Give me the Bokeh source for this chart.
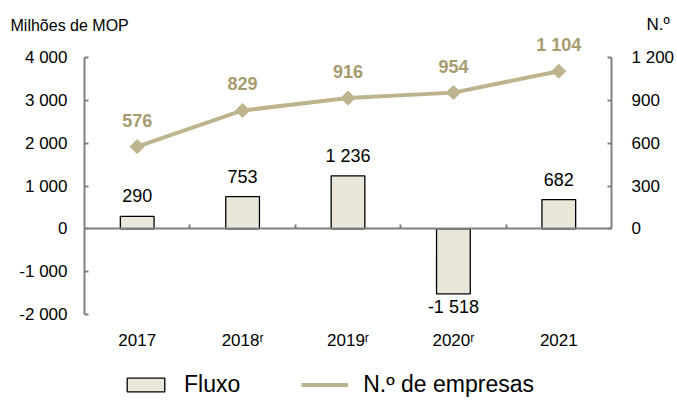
from bokeh.plotting import figure
from bokeh.models import (ColumnDataSource, Range1d, LinearAxis, FixedTicker,
                          LabelSet, Label, Legend, LegendItem)
from bokeh.embed import file_html
from bokeh.resources import INLINE
from bokeh.core.properties import value
import math

# ---- data ----
years = ["2017", "2018ʳ", "2019ʳ", "2020ʳ", "2021"]
fluxo = [290, 753, 1236, -1518, 682]
empresas = [576, 829, 916, 954, 1104]
left_ticks = [-2000, -1000, 0, 1000, 2000, 3000, 4000]
right_ticks = [0, 300, 600, 900, 1200]


def fmt(v):
    return f"{v:,}".replace(",", " ")


# ---- layout (pixels) ----
W, H = 677, 401
PX_L, PX_R = 84, 611      # left / right axis lines
PX_T, PX_B = 57, 314      # top (4000) / bottom (-2000) of the value axis
LMIN, LMAX = left_ticks[0], left_ticks[-1]
RMAX = right_ticks[-1]
RATIO = RMAX / LMAX

n = len(years)
cw = (PX_R - PX_L) / n
xs = list(range(n))
x0 = -0.5 - PX_L / cw
x1 = n - 0.5 + (W - PX_R) / cw
upp = (LMAX - LMIN) / (PX_B - PX_T)
y0 = LMIN - (H - PX_B) * upp
y1 = LMAX + PX_T * upp

FONT = "Liberation Sans"
BAR_FILL = "#EAE7DA"
LINE_COL = "#BDB48E"
LABEL_COL = "#A69C6F"
AXIS_COL = "#808080"

p = figure(width=W, height=H, x_range=Range1d(x0, x1), y_range=Range1d(y0, y1),
           x_axis_type=None, y_axis_type=None,
           output_backend="svg", toolbar_location=None,
           min_border=0, min_border_left=0, min_border_right=0,
           min_border_top=0, min_border_bottom=0)
p.extra_y_ranges = {"right": Range1d(y0 * RATIO, y1 * RATIO)}
p.outline_line_color = None
p.xgrid.visible = False
p.ygrid.visible = False
p.background_fill_color = "white"
p.border_fill_color = "white"


def style_axis(ax, size="17px"):
    ax.axis_line_color = AXIS_COL
    ax.axis_line_width = 2
    ax.major_tick_line_color = AXIS_COL
    ax.major_tick_line_width = 2
    ax.major_tick_in = 4
    ax.major_tick_out = 0
    ax.minor_tick_line_color = None
    ax.major_label_text_font = FONT
    ax.major_label_text_font_size = size
    ax.major_label_text_color = "black"


# left value axis
la = LinearAxis(fixed_location=-0.5, bounds=(LMIN, LMAX),
                ticker=FixedTicker(ticks=left_ticks))
la.major_label_overrides = {t: fmt(t) for t in left_ticks}
style_axis(la)
la.major_label_standoff = 17
p.add_layout(la, "left")

# right axis (number of companies)
ra = LinearAxis(y_range_name="right", fixed_location=n - 0.5, bounds=(0, RMAX),
                ticker=FixedTicker(ticks=right_ticks))
ra.major_label_overrides = {t: fmt(t) for t in right_ticks}
style_axis(ra)
ra.major_label_standoff = 20
p.add_layout(ra, "right")

# zero line with ticks at category boundaries
za = LinearAxis(fixed_location=0, bounds=(-0.5, n - 0.5),
                ticker=FixedTicker(ticks=[i + 0.5 for i in xs[:-1]]))
style_axis(za)
za.major_label_text_color = None
p.add_layout(za, "below")

# category labels
ca = LinearAxis(fixed_location=LMIN, ticker=FixedTicker(ticks=xs))
ca.major_label_overrides = {i: y for i, y in zip(xs, years)}
ca.axis_line_color = None
ca.major_tick_line_color = None
ca.minor_tick_line_color = None
ca.major_label_text_font = FONT
ca.major_label_text_font_size = "17px"
ca.major_label_text_color = "black"
ca.major_label_standoff = 10
p.add_layout(ca, "below")

src = ColumnDataSource(dict(x=xs, fluxo=fluxo, emp=empresas,
                            emp_lab=[fmt(v) for v in empresas]))

bars = p.vbar(x="x", top="fluxo", bottom=0, width=0.32, source=src,
              fill_color=BAR_FILL, line_color="black", line_width=1.3)

line = p.line(x="x", y="emp", source=src, y_range_name="right",
              line_color=LINE_COL, line_width=4)
p.scatter(x="x", y="emp", source=src, y_range_name="right", marker="square",
          angle=math.pi / 4, size=10, fill_color=LINE_COL, line_color=LINE_COL)

# bar labels
pos = ColumnDataSource(dict(x=[x for x, v in zip(xs, fluxo) if v >= 0],
                            v=[v for v in fluxo if v >= 0],
                            t=[fmt(v) for v in fluxo if v >= 0]))
neg = ColumnDataSource(dict(x=[x for x, v in zip(xs, fluxo) if v < 0],
                            v=[v for v in fluxo if v < 0],
                            t=[fmt(v) for v in fluxo if v < 0]))
p.add_layout(LabelSet(x="x", y="v", text="t", source=pos, text_align="center",
                      text_baseline="alphabetic", y_offset=14, text_font=value(FONT),
                      text_font_size="18px", text_color="black"))
p.add_layout(LabelSet(x="x", y="v", text="t", source=neg, text_align="center",
                      text_baseline="alphabetic", y_offset=-19, text_font=value(FONT),
                      text_font_size="18px", text_color="black"))
# line labels
p.add_layout(LabelSet(x="x", y="emp", text="emp_lab", source=src, y_range_name="right",
                      text_align="center", text_baseline="alphabetic", y_offset=20,
                      text_font=value(FONT), text_font_size="18px",
                      text_font_style="bold", text_color=LABEL_COL))

# axis titles
p.add_layout(Label(x=10, y=H - 25, x_units="screen", y_units="screen",
                   text="Milhões de MOP", text_font=FONT, text_font_size="16px",
                   text_baseline="middle", text_color="black"))
p.add_layout(Label(x=646, y=H - 24, x_units="screen", y_units="screen", text="N.º",
                   text_font=FONT, text_font_size="17px", text_baseline="middle",
                   text_color="black"))

legend = Legend(items=[LegendItem(label="Fluxo", renderers=[bars]),
                       LegendItem(label="N.º de empresas", renderers=[line])],
                orientation="horizontal", location=(122, 3),
                glyph_width=47, glyph_height=17, label_standoff=15, spacing=61,
                padding=0, margin=0, border_line_color=None, background_fill_alpha=0,
                label_text_font=FONT, label_text_font_size="23px",
                label_text_color="black")
p.add_layout(legend, "center")

open("out.html", "w").write(file_html(p, INLINE))
